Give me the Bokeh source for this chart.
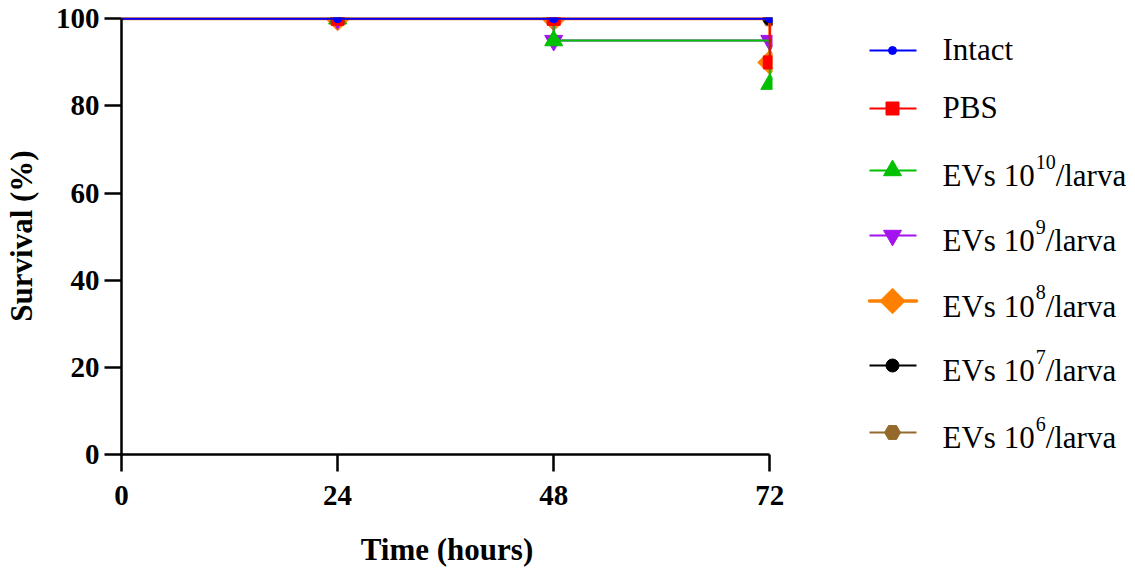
from bokeh.plotting import figure
from bokeh.models import Range1d, FixedTicker
from bokeh.layouts import row
from bokeh.core.properties import value
from bokeh.embed import file_html
from bokeh.resources import INLINE

# ---- data ----
times = [0, 24, 48, 72]
marker_times = [24, 48, 72]
x_ticks = [0, 24, 48, 72]
y_ticks = [0, 20, 40, 60, 80, 100]

label_main = ["Intact", "PBS", "EVs 10", "EVs 10", "EVs 10", "EVs 10", "EVs 10"]
label_sup = ["", "", "10", "9", "8", "7", "6"]
label_tail = ["", "", "/larva", "/larva", "/larva", "/larva", "/larva"]

intact = [100, 100, 100, 100]
pbs = [100, 100, 100, 90]
ev10 = [100, 100, 95, 85]
ev9 = [100, 100, 95, 95]
ev8 = [100, 100, 100, 90]
ev7 = [100, 100, 100, 100]
ev6 = [100, 100, 100, 100]
series = [intact, pbs, ev10, ev9, ev8, ev7, ev6]

# ---- styles ----
colors = ["#0000FF", "#FF0000", "#00C000", "#A313F0", "#FF8000", "#000000", "#946A2C"]
markers = ["circle", "square", "triangle", "inverted_triangle", "square", "circle", "hex"]
sizes = [8, 13, 18, 18, 17, 13, 16]
angles = [0, 0, 0, 0, 0.785398, 0, 0]
widths = [2, 2, 2, 2, 3, 2, 2]

FONT = "Liberation Serif"
TOP, FRAME_H, BOTTOM = 17, 437, 113

p = figure(frame_width=651, frame_height=FRAME_H,
           x_range=Range1d(0, 72.3), y_range=Range1d(0, 100.3),
           output_backend="svg", toolbar_location=None,
           min_border_left=114, min_border_right=30,
           min_border_top=TOP, min_border_bottom=100)

p.xgrid.visible = False
p.ygrid.visible = False
p.outline_line_color = None
p.background_fill_color = "white"
p.border_fill_color = "white"

for ax in (p.xaxis[0], p.yaxis[0]):
    ax.axis_line_width = 2.5
    ax.axis_line_color = "black"
    ax.major_tick_line_width = 2.5
    ax.major_tick_line_color = "black"
    ax.major_tick_out = 17
    ax.major_tick_in = 0
    ax.minor_tick_out = 0
    ax.minor_tick_in = 0
    ax.major_label_text_font = FONT
    ax.major_label_text_font_style = "bold"
    ax.major_label_text_font_size = "29px"
    ax.major_label_text_color = "black"
    ax.axis_label_text_font = FONT
    ax.axis_label_text_font_style = "bold"
    ax.axis_label_text_font_size = "31px"
    ax.axis_label_text_color = "black"

p.xaxis.ticker = FixedTicker(ticks=x_ticks)
p.yaxis.ticker = FixedTicker(ticks=y_ticks)
p.xaxis.bounds = (0, 72)
p.yaxis.bounds = (0, 100)
p.xaxis.axis_label = "Time (hours)"
p.yaxis.axis_label = "Survival (%)"
p.xaxis.major_label_standoff = 14
p.xaxis.axis_label_standoff = 24
p.yaxis.major_label_standoff = 5
p.yaxis.axis_label_standoff = 14

for i in reversed(range(len(series))):
    vals = series[i]
    p.step(times, vals, mode="after", line_color=colors[i], line_width=widths[i])
    p.scatter(marker_times, vals[1:], marker=markers[i], size=sizes[i],
              angle=angles[i], fill_color=colors[i], line_color=colors[i],
              line_width=1)

# ---- legend panel (its own small figure; frame aligned with the main frame,
#      coordinates = page pixels) ----
main_w = 114 + 651 + 30
leg_w = 1119 - main_w
X0 = 8 + main_w
FT, FB = TOP - 2, TOP + FRAME_H - 2   # page y of frame top / bottom
leg = figure(frame_width=leg_w, frame_height=FRAME_H,
             x_range=Range1d(X0, X0 + leg_w), y_range=Range1d(FB, FT),
             output_backend="svg", toolbar_location=None,
             min_border_left=0, min_border_right=0,
             min_border_top=TOP, min_border_bottom=BOTTOM,
             x_axis_location=None, y_axis_location=None)
leg.xgrid.visible = False
leg.ygrid.visible = False
leg.outline_line_color = None
leg.background_fill_color = "white"
leg.border_fill_color = "white"

item_y = [48, 106, 168, 233, 298.5, 363, 430]
MAIN_PX, SUP_PX = 31, 20
TEXT_DY = -12
def tw(s, px):
    w = {"E": .611, "V": .722, "s": .389, " ": .25, "1": .5, "0": .5, "I": .333,
         "n": .5, "t": .278, "a": .444, "c": .444, "P": .556, "B": .667, "S": .556}
    return sum(w.get(ch, .5) for ch in s) * px

for i in range(len(series)):
    yc = item_y[i]
    base = yc + (17 if label_sup[i] else 11) + TEXT_DY
    leg.line([870, 917], [yc, yc], line_color=colors[i], line_width=widths[i] + (0.5 if i == 4 else 0),
             line_cap="round" if i == 4 else "butt")
    leg.scatter([893], [yc], marker=markers[i], size=sizes[i] + (1 if i == 4 else 0),
                angle=angles[i], fill_color=colors[i], line_color=colors[i], line_width=1)
    tx = 943
    leg.text([tx], [base], text=[label_main[i]], text_font=value(FONT),
             text_font_size=f"{MAIN_PX}px", text_baseline="alphabetic",
             text_align="left", text_color="black")
    if label_sup[i]:
        sx = tx + tw(label_main[i], MAIN_PX) + 1
        leg.text([sx], [base - 14], text=[label_sup[i]], text_font=value(FONT),
                 text_font_size=f"{SUP_PX}px", text_baseline="alphabetic",
                 text_align="left", text_color="black")
        ax_ = sx + tw(label_sup[i], SUP_PX)
        leg.text([ax_], [base], text=[label_tail[i]], text_font=value(FONT),
                 text_font_size=f"{MAIN_PX}px", text_baseline="alphabetic",
                 text_align="left", text_color="black")

layout = row(p, leg, spacing=0)
open("out.html", "w").write(file_html(layout, INLINE))
